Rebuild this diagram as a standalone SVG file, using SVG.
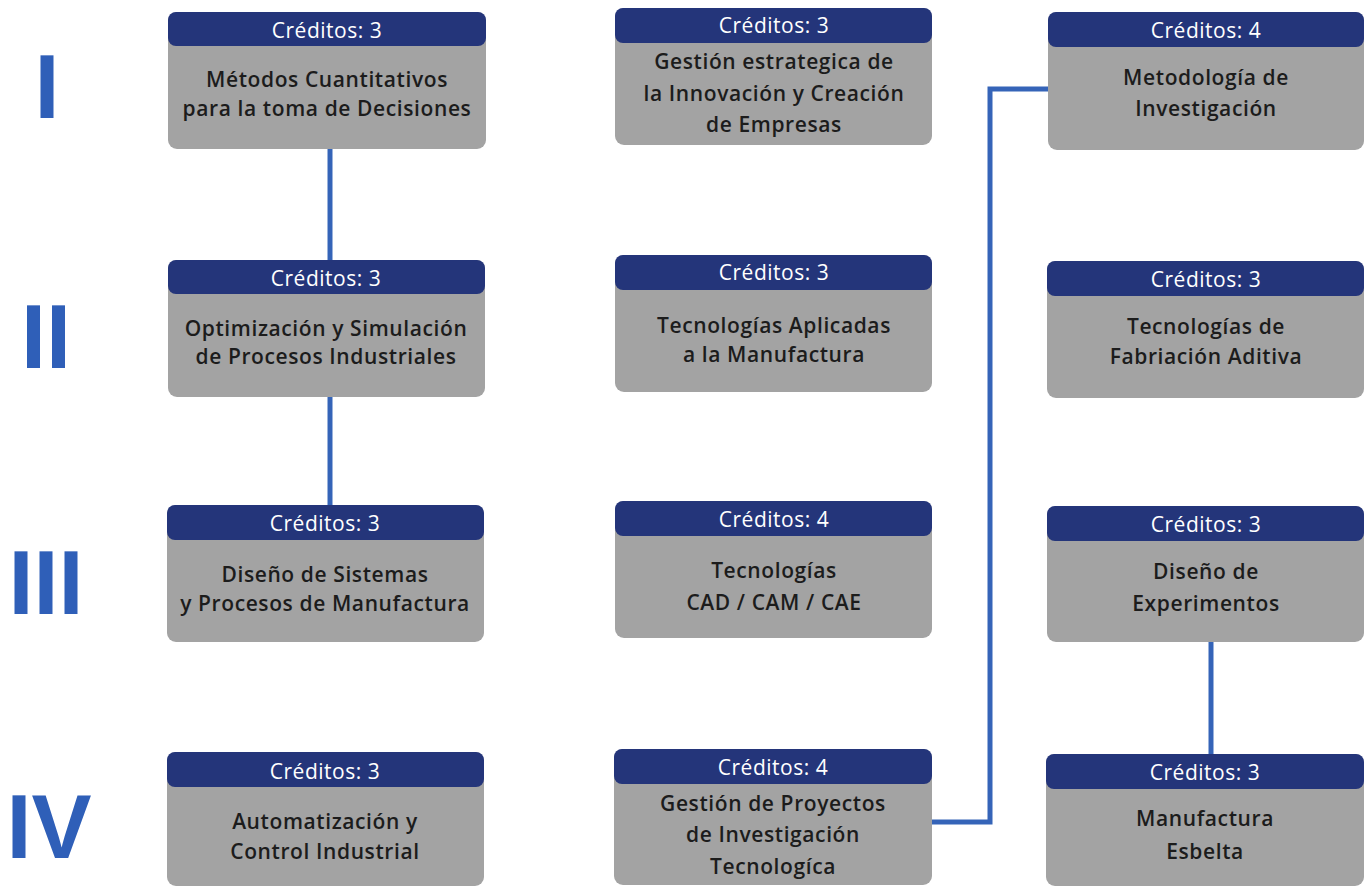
<svg xmlns="http://www.w3.org/2000/svg" width="1366" height="886" viewBox="0 0 1366 886">
<style>
.body{fill:#a3a3a3}
.head{fill:#24357a}
.ht{font-family:"Open Sans","Liberation Sans",sans-serif;font-size:21px;font-weight:500;letter-spacing:0.5px;fill:#ffffff;text-anchor:middle;dominant-baseline:central}
.bt{font-family:"Open Sans","Liberation Sans",sans-serif;font-size:21px;font-weight:600;letter-spacing:0.6px;fill:#1c1c1c;text-anchor:middle;dominant-baseline:central}
.num{font-family:"Liberation Sans",sans-serif;font-size:90px;font-weight:700;fill:#2f5fb8;text-anchor:middle}
.conn{fill:none;stroke:#3564b8;stroke-width:5}
</style>
<rect width="1366" height="886" fill="#ffffff"/>
<g id="numerals">
<text class="num" x="47" y="118">I</text>
<text class="num" x="46" y="368">II</text>
<text class="num" x="46" y="614">III</text>
<text class="num" x="49" y="858">IV</text>
</g>
<g id="connectors">
<line class="conn" x1="330" y1="148" x2="330" y2="262"/>
<line class="conn" x1="330" y1="396" x2="330" y2="507"/>
<line class="conn" x1="1211" y1="641" x2="1211" y2="756"/>
<polyline class="conn" points="932,822 990,822 990,89 1048,89"/>
</g>
<g id="n1">
<rect class="body" x="168" y="12" width="318" height="137" rx="9"/>
<rect class="head" x="168" y="12" width="318" height="34" rx="8"/>
<text class="ht" x="327" y="30">Créditos: 3</text>
<text class="bt" x="327" y="79">Métodos Cuantitativos</text>
<text class="bt" x="327" y="108">para la toma de Decisiones</text>
</g>
<g id="n2">
<rect class="body" x="168" y="260" width="317" height="137" rx="9"/>
<rect class="head" x="168" y="260" width="317" height="34" rx="8"/>
<text class="ht" x="326" y="278">Créditos: 3</text>
<text class="bt" x="326" y="328">Optimización y Simulación</text>
<text class="bt" x="326" y="356">de Procesos Industriales</text>
</g>
<g id="n3">
<rect class="body" x="167" y="505" width="317" height="137" rx="9"/>
<rect class="head" x="167" y="505" width="317" height="35" rx="8"/>
<text class="ht" x="325" y="523">Créditos: 3</text>
<text class="bt" x="325" y="574">Diseño de Sistemas</text>
<text class="bt" x="325" y="603">y Procesos de Manufactura</text>
</g>
<g id="n4">
<rect class="body" x="167" y="752" width="317" height="134" rx="9"/>
<rect class="head" x="167" y="752" width="317" height="35" rx="8"/>
<text class="ht" x="325" y="771">Créditos: 3</text>
<text class="bt" x="325" y="821">Automatización y</text>
<text class="bt" x="325" y="851">Control Industrial</text>
</g>
<g id="n5">
<rect class="body" x="615" y="8" width="317" height="137" rx="9"/>
<rect class="head" x="615" y="8" width="317" height="35" rx="8"/>
<text class="ht" x="774" y="25">Créditos: 3</text>
<text class="bt" x="774" y="61">Gestión estrategica de</text>
<text class="bt" x="774" y="93">la Innovación y Creación</text>
<text class="bt" x="774" y="124">de Empresas</text>
</g>
<g id="n6">
<rect class="body" x="615" y="255" width="317" height="137" rx="9"/>
<rect class="head" x="615" y="255" width="317" height="35" rx="8"/>
<text class="ht" x="774" y="272">Créditos: 3</text>
<text class="bt" x="774" y="325">Tecnologías Aplicadas</text>
<text class="bt" x="774" y="354">a la Manufactura</text>
</g>
<g id="n7">
<rect class="body" x="615" y="501" width="317" height="137" rx="9"/>
<rect class="head" x="615" y="501" width="317" height="35" rx="8"/>
<text class="ht" x="774" y="519">Créditos: 4</text>
<text class="bt" x="774" y="570">Tecnologías</text>
<text class="bt" x="774" y="602">CAD / CAM / CAE</text>
</g>
<g id="n8">
<rect class="body" x="614" y="749" width="318" height="136" rx="9"/>
<rect class="head" x="614" y="749" width="318" height="35" rx="8"/>
<text class="ht" x="773" y="767">Créditos: 4</text>
<text class="bt" x="773" y="803">Gestión de Proyectos</text>
<text class="bt" x="773" y="834">de Investigación</text>
<text class="bt" x="773" y="866">Tecnologíca</text>
</g>
<g id="n9">
<rect class="body" x="1048" y="12" width="316" height="138" rx="9"/>
<rect class="head" x="1048" y="12" width="316" height="35" rx="8"/>
<text class="ht" x="1206" y="30">Créditos: 4</text>
<text class="bt" x="1206" y="77">Metodología de</text>
<text class="bt" x="1206" y="108">Investigación</text>
</g>
<g id="n10">
<rect class="body" x="1047" y="261" width="317" height="137" rx="9"/>
<rect class="head" x="1047" y="261" width="317" height="35" rx="8"/>
<text class="ht" x="1206" y="279">Créditos: 3</text>
<text class="bt" x="1206" y="326">Tecnologías de</text>
<text class="bt" x="1206" y="356">Fabriación Aditiva</text>
</g>
<g id="n11">
<rect class="body" x="1047" y="506" width="317" height="136" rx="9"/>
<rect class="head" x="1047" y="506" width="317" height="35" rx="8"/>
<text class="ht" x="1206" y="524">Créditos: 3</text>
<text class="bt" x="1206" y="571">Diseño de</text>
<text class="bt" x="1206" y="603">Experimentos</text>
</g>
<g id="n12">
<rect class="body" x="1046" y="754" width="318" height="132" rx="9"/>
<rect class="head" x="1046" y="754" width="318" height="35" rx="8"/>
<text class="ht" x="1205" y="772">Créditos: 3</text>
<text class="bt" x="1205" y="818">Manufactura</text>
<text class="bt" x="1205" y="851">Esbelta</text>
</g>
</svg>
